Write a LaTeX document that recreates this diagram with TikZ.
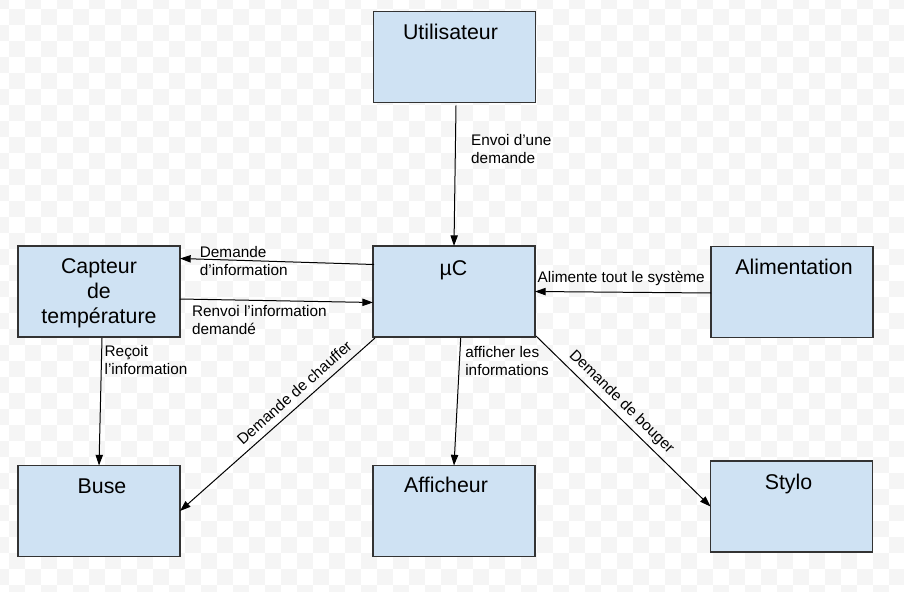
\documentclass[tikz,border=0pt]{standalone}
\usepackage{fontspec}
\setmainfont{Liberation Sans}
\usetikzlibrary{arrows.meta,calc}
\definecolor{boxfill}{RGB}{207,226,243}
\definecolor{boxdraw}{RGB}{51,51,51}
\definecolor{chk}{RGB}{245,245,245}
\begin{document}
\begin{tikzpicture}[x=0.75pt,y=-0.75pt,
  blk/.style={draw=boxdraw, line width=1pt, fill=boxfill, minimum width=121.5pt, minimum height=68.25pt, inner sep=0pt, outer sep=0pt},
  ttl/.style={font=\fontsize{16}{18.75}\selectfont, anchor=base, inner sep=0pt},
  lbl/.style={font=\fontsize{11.5}{13.5}\selectfont, inner sep=0pt, align=left},
  conn/.style={line width=0.75pt, -{Triangle[length=8pt,width=5.5pt]}},
  rconn/.style={line width=0.75pt, {Triangle[length=8pt,width=5.5pt]}-},
]
\useasboundingbox (0,0) rectangle (904,592);
% background checkerboard
\begin{scope}
\clip (0,0) rectangle (904,592);
\fill[white] (0,0) rectangle (904,592);
\foreach \i in {0,2,...,56}{\foreach \j in {0,2,...,36}{
  \fill[chk] ({9+16*\i},{9+16*\j}) rectangle ++(16,16);
  \fill[chk] ({-7+16*\i},{-7+16*\j}) rectangle ++(16,16);
}}
\end{scope}

% boxes
\node[blk] (util)  at (454.5,57)   {};
\node[blk] (uc)    at (454,291.5)  {};
\node[blk] (capt)  at (99,291.5)   {};
\node[blk] (alim)  at (792,292)    {};
\node[blk] (buse)  at (99,511)     {};
\node[blk] (aff)   at (454,511)    {};
\node[blk] (stylo) at (791.5,506.5){};

% titles
\node[ttl] (utilT)  at ($(util.north)+(-4,28)$)  {Utilisateur};
\node[ttl] (ucT)    at ($(uc.north)+(-0.5,29)$)  {µC};
\node[ttl, anchor=north, align=center] (captT) at ($(capt.north)+(0,12.4)$) {Capteur\\de\\température};
\node[ttl] (alimT)  at ($(alim.north)+(2,28)$)   {Alimentation};
\node[ttl] (buseT)  at ($(buse.north)+(3,28)$)   {Buse};
\node[ttl] (affT)   at ($(aff.north)+(-8,27)$)   {Afficheur};
\node[ttl] (styloT) at ($(stylo.north)+(-3,28)$) {Stylo};

% connectors
\draw[conn] ($(util.south)+(1.5,3)$) -- node[lbl, pos=0.31, anchor=west, xshift=11.5pt] (l1) {Envoi d’une\\demande} (uc.north);
\draw[conn] ($(uc.west)+(1,-27)$) -- node[lbl, pos=0.9, anchor=west, yshift=-1.5pt] (l2) {Demande\\d’information} ($(capt.east)+(0,-33)$);
\draw[conn] ($(capt.east)+(0,7.5)$) -- node[lbl, pos=0.06, anchor=west, yshift=-15.5pt] (l3) {Renvoi l’information\\demandé} ($(uc.west)+(0,11)$);
\draw[conn] ($(alim.west)+(0,1)$) -- node[lbl, pos=0.51, yshift=10pt] (l4) {Alimente tout le système} (uc.east);
\draw[conn] ($(capt.south)+(3,1)$) -- node[lbl, pos=0.17, anchor=west, xshift=2pt] (l5) {Reçoit\\l’information} (buse.north);
\draw[rconn] (buse.east) -- node[lbl, sloped, pos=0.63, above=5pt] (l6) {Demande de chauffer} ($(uc.south west)+(2,1)$);
\draw[conn] ($(uc.south)+(6.7,1)$) -- node[lbl, pos=0.18, anchor=west, xshift=4pt] (l7) {afficher les\\informations} (aff.north);
\draw[conn] ($(uc.south east)+(1,-1)$) -- node[lbl, sloped, pos=0.44, above=3.5pt] (l8) {Demande de bouger} (stylo.west);
\end{tikzpicture}
\end{document}
